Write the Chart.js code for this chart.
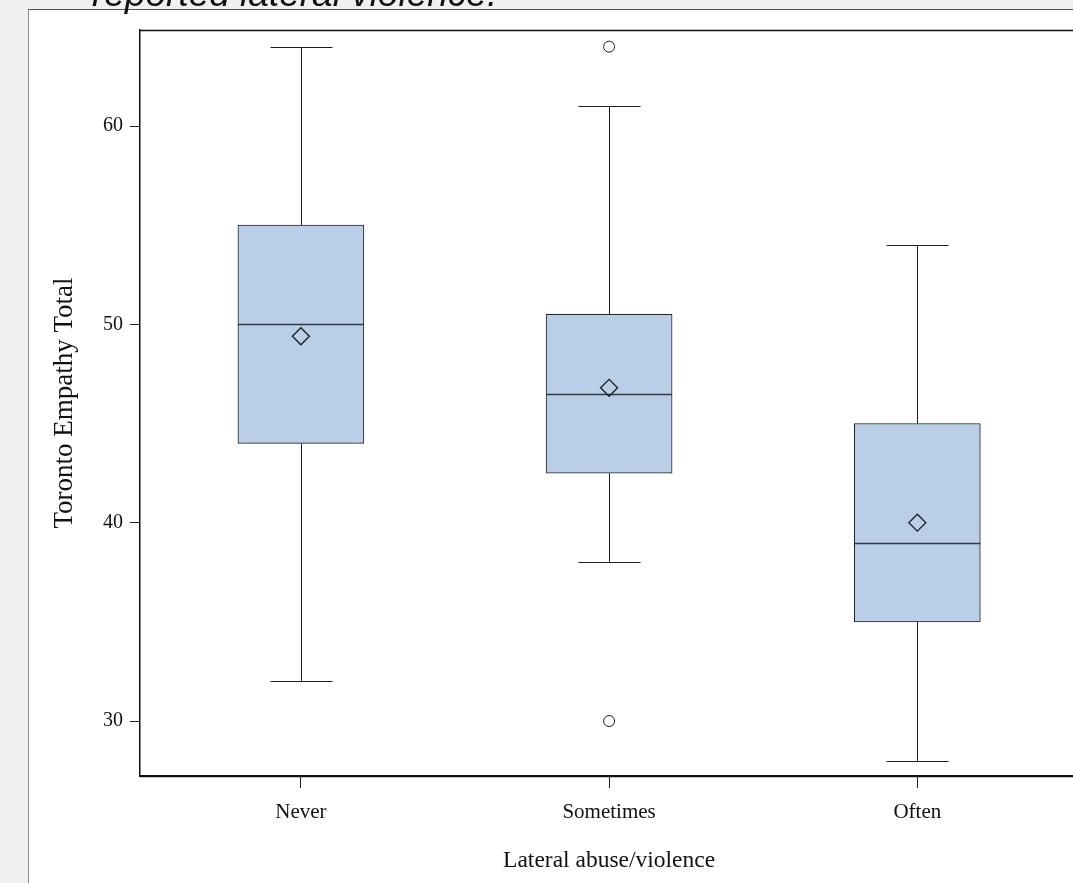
<!DOCTYPE html>
<html>
<head>
<meta charset="utf-8">
<script src="https://cdn.jsdelivr.net/npm/chart.js@4"></script>
<style>
    html, body { margin: 0; padding: 0; overflow: hidden; background: #f0f0f0; }
    body { width: 1073px; height: 883px; position: relative; }
    #panel { position: absolute; left: 28px; top: 9px; width: 1100px; height: 900px; background: #fff;
             border-left: 1px solid #8c8c8c; border-top: 1px solid #555; }
    #caption { position: absolute; left: 92px; top: -24px; font: italic 37px/36px "Liberation Sans", Arial, sans-serif;
               color: #111; white-space: nowrap; z-index: 2; }
    #chart { position: absolute; left: 29px; top: 10px; }
</style>
</head>
<body>
<div id="panel"></div>
<div id="caption">reported lateral violence.</div>
<canvas id="chart" width="1059" height="873"></canvas>
<script>
// Box plot values
const categories = ['Never', 'Sometimes', 'Often'];
const whiskerLow = [32, 38, 28];
const q1 = [44, 42.5, 35];
const median = [50, 46.5, 39];
const q3 = [55, 50.5, 45];
const whiskerHigh = [64, 61, 54];
const means = [49.4, 46.8, 40.0];
const outlierGroup = [1, 1];
const outlierValue = [64, 30];

const boxColor = '#b9cfe8';
const lineColor = '#1e1e1e';
const capWidth = 62;
const serif = "'Liberation Serif', 'Times New Roman', serif";

// Whiskers, caps and median lines drawn from the chart's scales
const boxPlotLines = {
    id: 'boxPlotLines',
    beforeDatasetsDraw(chart) {
        const { ctx, scales: { x, y } } = chart;
        ctx.save();
        ctx.strokeStyle = lineColor;
        ctx.lineWidth = 1;
        categories.forEach((c, i) => {
            const px = Math.round(x.getPixelForValue(i)) + 0.5;
            [[q3[i], whiskerHigh[i]], [q1[i], whiskerLow[i]]].forEach(([from, to]) => {
                const y0 = y.getPixelForValue(from);
                const y1 = Math.round(y.getPixelForValue(to)) + 0.5;
                ctx.beginPath();
                ctx.moveTo(px, y0);
                ctx.lineTo(px, y1);
                ctx.moveTo(px - capWidth / 2, y1);
                ctx.lineTo(px + capWidth / 2, y1);
                ctx.stroke();
            });
        });
        ctx.restore();
    },
    afterDatasetDraw(chart, args) {
        if (args.index !== 0) return;
        const { ctx, scales: { x, y } } = chart;
        const half = chart.data.datasets[0].barThickness / 2;
        ctx.save();
        ctx.strokeStyle = '#33383f';
        ctx.lineWidth = 1.5;
        categories.forEach((c, i) => {
            const px = x.getPixelForValue(i);
            const py = Math.round(y.getPixelForValue(median[i])) + 0.5;
            ctx.beginPath();
            ctx.moveTo(px - half, py);
            ctx.lineTo(px + half, py);
            ctx.stroke();
        });
        ctx.restore();
    },
    afterDraw(chart) {
        const { ctx, chartArea: a } = chart;
        ctx.save();
        ctx.strokeStyle = '#111';
        ctx.lineWidth = 1.5;
        ctx.beginPath();
        ctx.moveTo(a.left, Math.round(a.top) + 0.5);
        ctx.lineTo(chart.width, Math.round(a.top) + 0.5);
        ctx.moveTo(a.left, Math.round(a.bottom) + 0.5);
        ctx.lineTo(chart.width, Math.round(a.bottom) + 0.5);
        ctx.stroke();
        ctx.restore();
    }
};

new Chart(document.getElementById('chart'), {
    type: 'bar',
    data: {
        datasets: [
            {
                type: 'bar',
                data: categories.map((c, i) => ({ x: i, y: [q1[i], q3[i]] })),
                backgroundColor: boxColor,
                borderColor: '#222',
                borderWidth: 1,
                borderSkipped: false,
                barThickness: 126,
                order: 3
            },
            {
                type: 'scatter',
                data: means.map((m, i) => ({ x: i, y: m })),
                pointStyle: 'rectRot',
                pointRadius: 8.5,
                backgroundColor: 'rgba(0,0,0,0)',
                borderColor: lineColor,
                borderWidth: 1.3,
                order: 1
            },
            {
                type: 'scatter',
                data: outlierValue.map((v, i) => ({ x: outlierGroup[i], y: v })),
                pointStyle: 'circle',
                pointRadius: 5.5,
                backgroundColor: '#fff',
                borderColor: lineColor,
                borderWidth: 1,
                order: 1
            }
        ]
    },
    options: {
        responsive: false,
        animation: false,
        layout: { padding: { top: 20, left: 0, right: 0, bottom: 0 } },
        plugins: { legend: { display: false }, tooltip: { enabled: false } },
        scales: {
            x: {
                type: 'linear',
                offset: false,
                min: -0.522,
                max: 2.522,
                afterFit: (scale) => { scale.height = 107; scale.paddingLeft = 0; scale.paddingRight = 0; },
                ticks: {
                    stepSize: 1,
                    includeBounds: false,
                    padding: 12,
                    color: '#111',
                    font: { family: serif, size: 21 },
                    callback: (v) => categories[v] ?? ''
                },
                grid: { offset: false, drawOnChartArea: false, tickLength: 12, color: '#222' },
                border: { display: true, color: '#111', width: 1.5 },
                title: {
                    display: true,
                    text: 'Lateral abuse/violence',
                    color: '#111',
                    font: { family: serif, size: 23.5 },
                    padding: { top: 0, bottom: 8 }
                }
            },
            y: {
                min: 27.23,
                max: 64.84,
                afterFit: (scale) => { scale.width = 111; },
                ticks: {
                    stepSize: 10,
                    includeBounds: false,
                    padding: 7,
                    color: '#111',
                    font: { family: serif, size: 20 }
                },
                grid: { drawOnChartArea: false, tickLength: 10, color: '#222' },
                border: { display: true, color: '#111', width: 1.5 },
                title: {
                    display: true,
                    text: 'Toronto Empathy Total',
                    color: '#111',
                    font: { family: serif, size: 27 },
                    padding: { top: 20, bottom: 0 }
                }
            }
        }
    },
    plugins: [boxPlotLines]
});
</script>
</body>
</html>
